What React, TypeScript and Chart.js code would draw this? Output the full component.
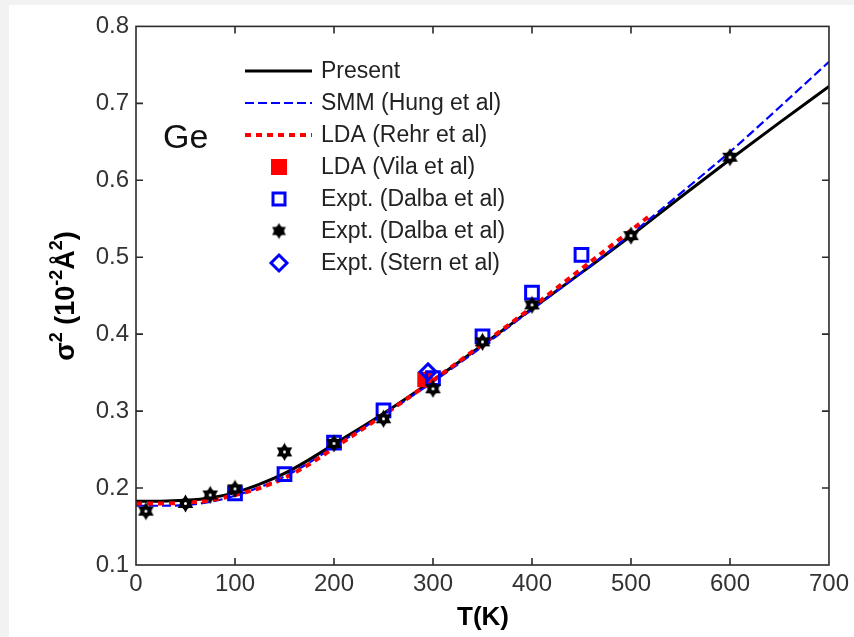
import React, { useEffect, useRef } from "react";
import { Chart, registerables } from "chart.js";
Chart.register(...registerables);

// ---- data ----
const presentT = [0, 25, 50, 75, 100, 125, 150, 175, 200, 250, 300, 350, 400, 450, 500, 550, 600, 650, 700];
const presentS = [0.183, 0.183, 0.184, 0.187, 0.194, 0.205, 0.219, 0.237, 0.257, 0.297, 0.340, 0.386, 0.433, 0.480, 0.528, 0.578, 0.627, 0.675, 0.722];
const smmT = [0, 25, 50, 75, 100, 125, 150, 175, 200, 250, 300, 350, 400, 450, 500, 550, 600, 650, 700];
const smmS = [0.177, 0.177, 0.178, 0.182, 0.190, 0.201, 0.215, 0.233, 0.254, 0.295, 0.338, 0.384, 0.432, 0.480, 0.530, 0.583, 0.637, 0.695, 0.754];
const ldaT = [0, 25, 50, 75, 100, 125, 150, 175, 200, 250, 300, 350, 400, 450, 500, 520];
const ldaS = [0.180, 0.180, 0.181, 0.184, 0.191, 0.200, 0.213, 0.231, 0.252, 0.295, 0.340, 0.387, 0.435, 0.485, 0.535, 0.555];
const vilaT = [292];
const vilaS = [0.341];
const dalbaSqT = [100, 150, 200, 250, 300, 350, 400, 450];
const dalbaSqS = [0.193, 0.218, 0.259, 0.301, 0.343, 0.397, 0.454, 0.503];
const dalbaStarT = [10, 50, 75, 100, 150, 200, 250, 300, 350, 400, 500, 600];
const dalbaStarS = [0.170, 0.180, 0.191, 0.199, 0.247, 0.258, 0.290, 0.329, 0.390, 0.438, 0.528, 0.630];
const sternT = [295];
const sternS = [0.351];

const legendLabels = [
  "Present",
  "SMM (Hung et al)",
  "LDA (Rehr et al)",
  "LDA (Vila et al)",
  "Expt. (Dalba et al)",
  "Expt. (Dalba et al)",
  "Expt. (Stern et al)",
];
const xTitle = "T(K)";
const materialLabel = "Ge";

const FONT = "'Liberation Sans', Arial, Helvetica, sans-serif";
const BLUE = "#0000ff";
const RED = "#ff0000";

function makeHexagram(size: number, withHole: boolean) {
  const c = document.createElement("canvas");
  c.width = size;
  c.height = size;
  const ctx = c.getContext("2d")!;
  const cx = size / 2, cy = size / 2, r = size / 2 - 0.5;
  ctx.fillStyle = "#000";
  const tri = (a0: number) => {
    ctx.beginPath();
    for (let k = 0; k < 3; k++) {
      const a = ((a0 + k * 120) * Math.PI) / 180;
      const px = cx + r * Math.cos(a), py = cy + r * Math.sin(a);
      if (k === 0) ctx.moveTo(px, py); else ctx.lineTo(px, py);
    }
    ctx.closePath();
    ctx.fill();
  };
  tri(-90);
  tri(90);
  ctx.beginPath();
  ctx.arc(cx, cy, size * 0.3, 0, Math.PI * 2);
  ctx.fill();
  if (withHole) {
    ctx.fillStyle = "#fff";
    ctx.beginPath();
    ctx.arc(cx, cy, 1.5, 0, Math.PI * 2);
    ctx.fill();
  }
  return c;
}

function pts(T: number[], S: number[]) {
  return T.map((t, i) => ({ x: t, y: S[i] }));
}

function drawRich(ctx: CanvasRenderingContext2D, parts: { t: string; sup?: boolean }[], size: number, cx: number, cy: number, rotate: boolean) {
  const main = `bold ${size}px ${FONT}`;
  const small = `bold ${Math.round(size * 0.68)}px ${FONT}`;
  let total = 0;
  const widths = parts.map((p) => {
    ctx.font = p.sup ? small : main;
    const w = ctx.measureText(p.t).width;
    total += w;
    return w;
  });
  ctx.save();
  ctx.translate(cx, cy);
  if (rotate) ctx.rotate(-Math.PI / 2);
  ctx.fillStyle = "#000";
  ctx.textBaseline = "alphabetic";
  ctx.textAlign = "left";
  let x = -total / 2;
  const baseY = size * 0.36;
  parts.forEach((p, i) => {
    ctx.font = p.sup ? small : main;
    ctx.fillText(p.t, x, p.sup ? baseY - size * 0.45 : baseY);
    x += widths[i];
  });
  ctx.restore();
}

const decorPlugin = {
  id: "decor",
  afterDatasetsDraw(chart: any) {
    const { ctx, chartArea: a, scales } = chart;
    const xs = scales.x, ys = scales.y;
    ctx.save();
    ctx.strokeStyle = "#2a2a2a";
    ctx.lineWidth = 1.6;
    ctx.strokeRect(a.left, a.top, a.right - a.left, a.bottom - a.top);
    const tl = 7;
    ctx.beginPath();
    xs.ticks.forEach((t: any) => {
      const px = xs.getPixelForValue(t.value);
      if (px <= a.left + 1 || px >= a.right - 1) return;
      ctx.moveTo(px, a.bottom);
      ctx.lineTo(px, a.bottom - tl);
      ctx.moveTo(px, a.top);
      ctx.lineTo(px, a.top + tl);
    });
    ys.ticks.forEach((t: any) => {
      const py = ys.getPixelForValue(t.value);
      if (py <= a.top + 1 || py >= a.bottom - 1) return;
      ctx.moveTo(a.left, py);
      ctx.lineTo(a.left + tl, py);
      ctx.moveTo(a.right, py);
      ctx.lineTo(a.right - tl, py);
    });
    ctx.stroke();
    ctx.restore();
  },
  afterDraw(chart: any) {
    const { ctx } = chart;
    ctx.save();
    // material label
    ctx.fillStyle = "#111";
    ctx.font = `34px ${FONT}`;
    ctx.textBaseline = "middle";
    ctx.textAlign = "left";
    ctx.fillText(materialLabel, 154, 134);

    // legend
    const rowY = [66, 98, 130, 162, 194, 226, 258];
    const lx0 = 236, lx1 = 303, mx = 270, tx = 312;
    ctx.font = `23px ${FONT}`;
    ctx.fillStyle = "#222";
    legendLabels.forEach((lab, i) => ctx.fillText(lab, tx, rowY[i] + 1));
    // line samples
    ctx.lineCap = "butt";
    ctx.strokeStyle = "#000";
    ctx.lineWidth = 3;
    ctx.setLineDash([]);
    ctx.beginPath(); ctx.moveTo(lx0, rowY[0]); ctx.lineTo(lx1, rowY[0]); ctx.stroke();
    ctx.strokeStyle = BLUE;
    ctx.lineWidth = 2.2;
    ctx.setLineDash([9, 4]);
    ctx.beginPath(); ctx.moveTo(lx0, rowY[1]); ctx.lineTo(lx1, rowY[1]); ctx.stroke();
    ctx.strokeStyle = RED;
    ctx.lineWidth = 4;
    ctx.setLineDash([6, 5]);
    ctx.beginPath(); ctx.moveTo(lx0, rowY[2]); ctx.lineTo(lx1, rowY[2]); ctx.stroke();
    ctx.setLineDash([]);
    // markers
    ctx.fillStyle = RED;
    ctx.fillRect(mx - 8, rowY[3] - 8, 16, 16);
    ctx.strokeStyle = BLUE;
    ctx.lineWidth = 3;
    ctx.strokeRect(mx - 6, rowY[4] - 6, 12, 12);
    const star = makeHexagram(17, false);
    ctx.drawImage(star, mx - 8.5, rowY[5] - 8.5);
    ctx.beginPath();
    ctx.moveTo(mx, rowY[6] - 8);
    ctx.lineTo(mx + 8, rowY[6]);
    ctx.lineTo(mx, rowY[6] + 8);
    ctx.lineTo(mx - 8, rowY[6]);
    ctx.closePath();
    ctx.stroke();

    // axis titles
    drawRich(ctx, [{ t: xTitle }], 26, 474, 611, false);
    drawRich(
      ctx,
      [
        { t: "σ" },
        { t: "2", sup: true },
        { t: " (10" },
        { t: "-2", sup: true },
        { t: "Å" },
        { t: "2", sup: true },
        { t: ")" },
      ],
      27,
      55,
      291,
      true
    );
    ctx.restore();
  },
};

export default function App() {
  const ref = useRef<HTMLCanvasElement | null>(null);
  useEffect(() => {
    document.body.style.margin = "0";
    document.body.style.background = "#f2f2f2";
    const starImg = makeHexagram(19, true);
    const tickFont = { family: FONT, size: 24 };
    const chart = new Chart(ref.current!, {
      type: "scatter",
      data: {
        datasets: [
          {
            label: legendLabels[6],
            data: pts(sternT, sternS),
            pointStyle: "rectRot",
            pointRadius: 8,
            borderColor: BLUE,
            backgroundColor: "rgba(0,0,0,0)",
            borderWidth: 3,
          },
          {
            label: legendLabels[5],
            data: pts(dalbaStarT, dalbaStarS),
            pointStyle: starImg as any,
            pointRadius: 9,
          },
          {
            label: legendLabels[4],
            data: pts(dalbaSqT, dalbaSqS),
            pointStyle: "rect",
            pointRadius: 9,
            borderColor: BLUE,
            backgroundColor: "rgba(0,0,0,0)",
            borderWidth: 3,
          },
          {
            label: legendLabels[3],
            data: pts(vilaT, vilaS),
            pointStyle: "rect",
            pointRadius: 11,
            borderWidth: 0,
            backgroundColor: RED,
            borderColor: RED,
          },
          {
            label: legendLabels[2],
            data: pts(ldaT, ldaS),
            showLine: true,
            borderColor: RED,
            borderWidth: 4,
            borderDash: [6, 5],
            pointRadius: 0,
            cubicInterpolationMode: "monotone",
          },
          {
            label: legendLabels[1],
            data: pts(smmT, smmS),
            showLine: true,
            borderColor: BLUE,
            borderWidth: 2.2,
            borderDash: [9, 4],
            pointRadius: 0,
            cubicInterpolationMode: "monotone",
          },
          {
            label: legendLabels[0],
            data: pts(presentT, presentS),
            showLine: true,
            borderColor: "#000",
            borderWidth: 3,
            pointRadius: 0,
            cubicInterpolationMode: "monotone",
          },
        ],
      },
      options: {
        responsive: false,
        animation: false,
        layout: { padding: { top: 16, right: 25, left: 0, bottom: 0 } },
        plugins: { legend: { display: false }, tooltip: { enabled: false } },
        scales: {
          x: {
            type: "linear",
            min: 0,
            max: 700,
            ticks: { stepSize: 100, padding: 5, color: "#333", font: tickFont, maxRotation: 0, autoSkip: false },
            grid: { display: false, drawTicks: false },
            border: { display: false },
            afterFit: (s: any) => {
              s.height = 72;
            },
          },
          y: {
            type: "linear",
            min: 0.1,
            max: 0.8,
            ticks: {
              stepSize: 0.1,
              padding: 7,
              color: "#333",
              font: tickFont,
              callback: (v: any) => Number(v).toFixed(1),
            },
            grid: { display: false, drawTicks: false },
            border: { display: false },
            afterFit: (s: any) => {
              s.width = 127;
            },
          },
        },
      },
      plugins: [decorPlugin],
    } as any);
    return () => chart.destroy();
  }, []);
  return (
    <div style={{ position: "absolute", left: 9, top: 5, width: 845, height: 632, background: "#fff" }}>
      <canvas ref={ref} width={845} height={632} style={{ display: "block" }} />
    </div>
  );
}
